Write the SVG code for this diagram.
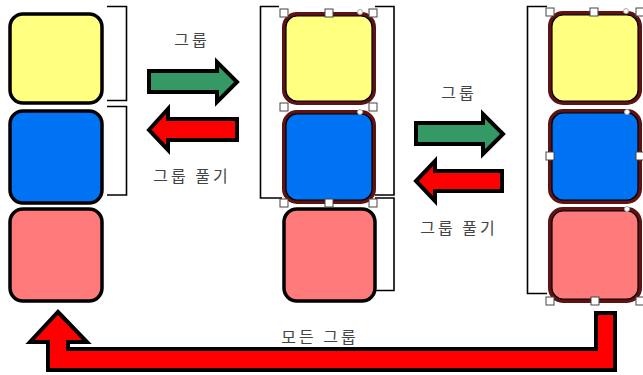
<svg xmlns="http://www.w3.org/2000/svg" width="643" height="375" viewBox="0 0 643 375">
<style>
.box{stroke:#000;stroke-width:3.5}
.sel{stroke:#5e1212;stroke-width:4}
.in{fill:none;stroke:#000;stroke-width:1.2}
.y{fill:#ffff80}.b{fill:#0073f5}.p{fill:#ff7b7b}
.br{fill:none;stroke:#000;stroke-width:1.6}
.h{fill:#fff;stroke:#444;stroke-width:1}
.rot{fill:#fff;stroke:#aaa;stroke-width:1}
.ar{stroke:#000;stroke-width:4;stroke-linejoin:miter}
.g{fill:#359966}.r{fill:#ff0000}
text{font-family:"Noto Sans CJK KR","Noto Sans",sans-serif;font-size:16px;fill:#444;text-anchor:middle;letter-spacing:3px}
</style>
<g id="left-column">
<rect id="left-yellow" class="box y" x="10" y="14" width="92" height="89" rx="13"/>
<rect id="left-blue" class="box b" x="10" y="111" width="92" height="92" rx="13"/>
<rect id="left-pink" class="box p" x="10" y="209" width="92" height="92" rx="13"/>
<path class="br" d="M107 6.5H126.5V100.5H107M107 106.5H126.5V195H107"/>
</g>
<g id="middle-column">
<path class="br" d="M279 6.5H260.5V198H282"/>
<path class="br" d="M375 6.5H394V195H375M375 198H394V290.5H375"/>
<rect id="mid-yellow" class="sel y" x="284" y="14" width="90" height="89" rx="13"/>
<rect class="in" x="286" y="16" width="86" height="85" rx="11"/>
<rect id="mid-blue" class="sel b" x="284" y="112" width="90" height="90" rx="13"/>
<rect class="in" x="286" y="114" width="86" height="86" rx="11"/>
<rect id="mid-pink" class="box p" x="284" y="209" width="91" height="92" rx="13"/>
<g id="mid-handles">
<rect class="h" x="280" y="9" width="8" height="8"/><rect class="h" x="325" y="9" width="8" height="8"/><rect class="h" x="369" y="9" width="8" height="8"/>
<rect class="h" x="280" y="103" width="8" height="8"/><rect class="h" x="369" y="103" width="8" height="8"/>
<rect class="h" x="280" y="199" width="8" height="8"/><rect class="h" x="325" y="199" width="8" height="8"/><rect class="h" x="369" y="199" width="8" height="8"/>
<circle class="rot" cx="360" cy="12" r="2.5"/><circle class="rot" cx="360" cy="112" r="2.5"/>
</g>
</g>
<g id="right-column">
<path class="br" d="M547 6.5H527.5V293.5H547"/>
<rect id="right-yellow" class="sel y" x="550" y="13" width="90" height="90" rx="13"/>
<rect class="in" x="552" y="15" width="86" height="86" rx="11"/>
<rect id="right-blue" class="sel b" x="550" y="111" width="90" height="91" rx="13"/>
<rect class="in" x="552" y="113" width="86" height="87" rx="11"/>
<rect id="right-pink" class="sel p" x="550" y="209" width="90" height="92" rx="13"/>
<rect class="in" x="552" y="211" width="86" height="88" rx="11"/>
<g id="right-handles">
<rect class="h" x="546" y="8" width="8" height="8"/><rect class="h" x="590" y="8" width="8" height="8"/><rect class="h" x="636" y="8" width="8" height="8"/>
<rect class="h" x="546" y="152" width="8" height="8"/><rect class="h" x="636" y="152" width="8" height="8"/>
<rect class="h" x="546" y="297" width="8" height="8"/><rect class="h" x="591" y="297" width="8" height="8"/><rect class="h" x="636" y="297" width="8" height="8"/>
<circle class="rot" cx="626" cy="11" r="2.5"/><circle class="rot" cx="627" cy="112" r="2.5"/><circle class="rot" cx="627" cy="209" r="2.5"/>
</g>
</g>
<g id="connectors">
<polygon id="group-arrow-1" class="ar g" points="149,71 217,71 217,62 237,82 217,102 217,92 149,92"/>
<polygon id="ungroup-arrow-1" class="ar r" points="237,119 168,119 168,109 149,130 168,150 168,140 237,140"/>
<polygon id="group-arrow-2" class="ar g" points="416,123 483,123 483,114 503,134 483,154 483,144 416,144"/>
<polygon id="ungroup-arrow-2" class="ar r" points="502,171 435,171 435,161 416,181 435,201 435,191 502,191"/>
<polygon id="all-group-arrow" class="ar r" points="615,313 615,370 48,370 48,342 30,342 58,312 87,342 68,342 68,349 596,349 596,313"/>
</g>
<g id="labels">
<text x="192" y="46">그룹</text>
<text x="192" y="182">그룹 풀기</text>
<text x="459" y="99">그룹</text>
<text x="459" y="234">그룹 풀기</text>
<text x="320" y="343">모든 그룹</text>
</g>
</svg>
